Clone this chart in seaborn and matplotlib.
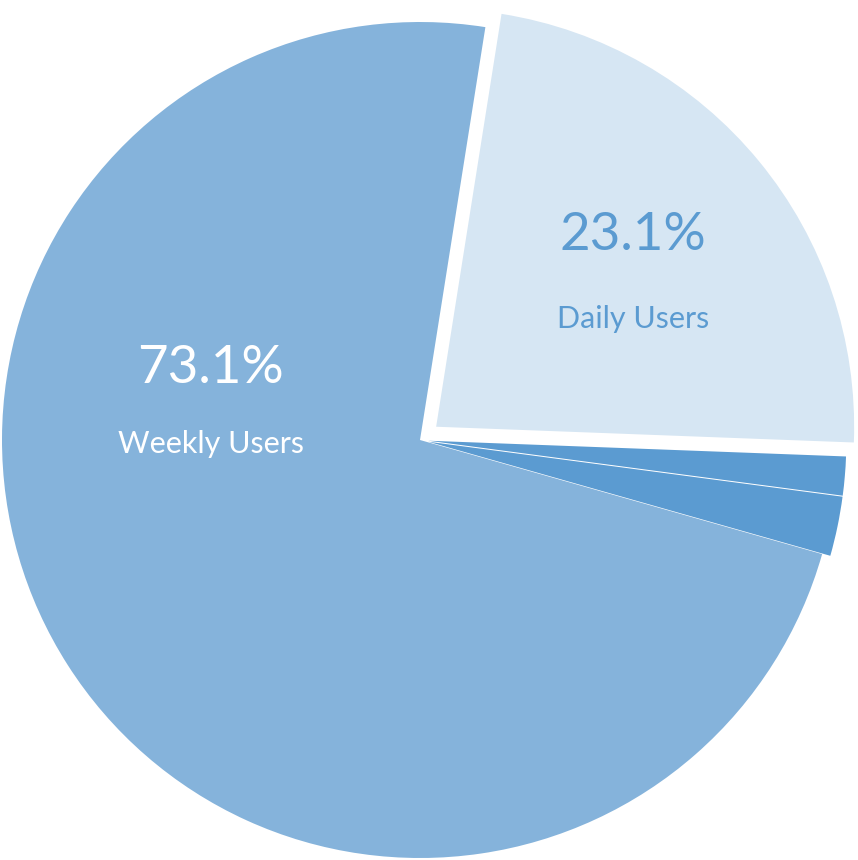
import matplotlib
matplotlib.use("Agg")
import matplotlib.pyplot as plt
import seaborn as sns

labels = ["Daily Users", "Other A", "Other B", "Weekly Users"]
values = [23.1, 1.5, 2.3, 73.1]
colors = ["#D6E6F3", "#5B9BD1", "#5B9BD1", "#85B3DB"]
explode = [0.05, 0.02, 0.02, 0.0]

sns.set_theme(style="white")
plt.rcParams['font.family'] = ['Lato', 'DejaVu Sans']

fig = plt.figure(figsize=(8.58, 8.6), dpi=100)
ax = fig.add_axes([0, 0, 1, 1])
ax.pie(values, colors=colors, explode=explode, startangle=81, counterclock=False,
       radius=1.0, wedgeprops=dict(edgecolor="white", linewidth=0))
ax.set_xlim(-420/418, 438/418)
ax.set_ylim(-420/418, 440/418)
ax.set_aspect('auto')
ax.axis('off')

ax.text(-0.50, 0.17, "73.1%", color="white", fontsize=38, ha="center", va="center")
ax.text(-0.50, -0.01, "Weekly Users", color="white", fontsize=22, ha="center", va="center")
ax.text(0.51, 0.49, "23.1%", color="#5B9BD1", fontsize=38, ha="center", va="center")
ax.text(0.51, 0.29, "Daily Users", color="#5B9BD1", fontsize=22, ha="center", va="center")

fig.savefig("out.png", dpi=100)
